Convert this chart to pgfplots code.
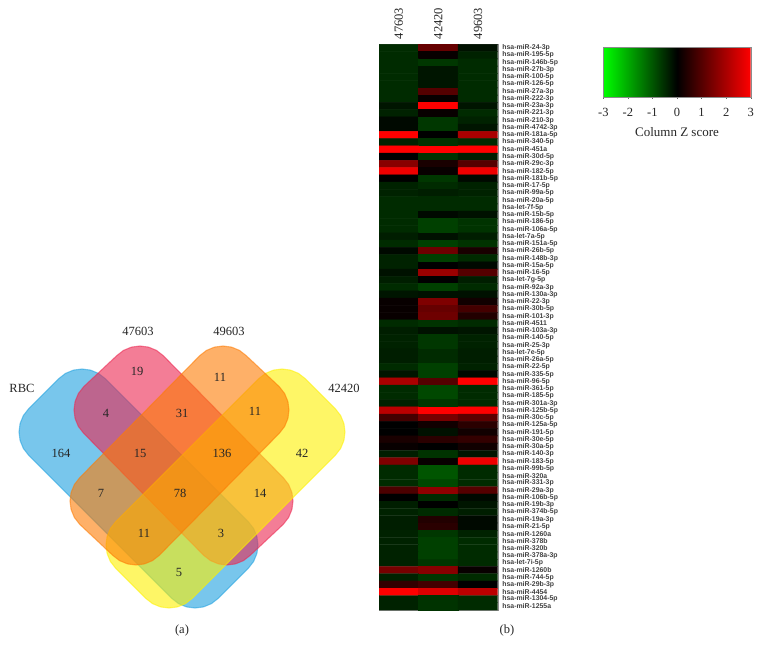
\documentclass[border=0pt]{standalone}
\usepackage{fontspec}
\setmainfont{Liberation Serif}
\newfontfamily\lsans{Liberation Sans}
\usepackage{pgfplots}
\pgfplotsset{compat=1.18}
\definecolor{cblue}{RGB}{30,160,223}
\definecolor{cpink}{RGB}{235,38,80}
\definecolor{cyell}{RGB}{253,240,0}
\definecolor{coran}{RGB}{253,123,3}
\pgfplotsset{vennset/.style={fill=#1,draw=#1,fill opacity=0.6,draw opacity=0.55,line width=1.1pt}}
\begin{document}
\begin{tikzpicture}
\useasboundingbox (0pt,0pt) rectangle (763pt,656pt);
% ---------- Venn diagram, axis in image pixels
\begin{axis}[at={(0pt,0pt)},anchor=south west,scale only axis,width=763pt,height=656pt,
  xmin=0,xmax=763,ymin=0,ymax=656,y dir=reverse,hide axis,clip=false]
\addplot[vennset=cblue] coordinates {
 (28.7,455.3)(23.4,448.5)(20.1,440.5)(19,432)(20.1,423.5)(23.4,415.5)(28.7,408.7)
 (58.7,378.7)(65.5,373.4)(73.5,370.1)(82,369)(90.5,370.1)(98.5,373.4)(105.3,378.7)
 (248.3,521.7)(253.6,528.5)(256.9,536.5)(258,545)(256.9,553.5)(253.6,561.5)(248.3,568.3)
 (218.3,598.3)(211.5,603.6)(203.5,606.9)(195,608)(186.5,606.9)(178.5,603.6)(171.7,598.3)
} -- cycle;
\addplot[vennset=cpink] coordinates {
 (83.7,433.3)(78.4,426.5)(75.1,418.5)(74,410)(75.1,401.5)(78.4,393.5)(83.7,386.7)
 (116.7,355.7)(123.5,350.4)(131.5,347.1)(140,346)(148.5,347.1)(156.5,350.4)(163.3,355.7)
 (283.3,477.7)(288.6,484.5)(291.9,492.5)(293,501)(291.9,509.5)(288.6,517.5)(283.3,524.3)
 (250.3,555.3)(243.5,560.6)(235.5,563.9)(227,565)(218.5,563.9)(210.5,560.6)(203.7,555.3)
} -- cycle;
\addplot[vennset=cyell] coordinates {
 (115.7,568.3)(110.4,561.5)(107.1,553.5)(106,545)(107.1,536.5)(110.4,528.5)(115.7,521.7)
 (258.7,378.7)(265.5,373.4)(273.5,370.1)(282,369)(290.5,370.1)(298.5,373.4)(305.3,378.7)
 (335.3,408.7)(340.6,415.5)(343.9,423.5)(345,432)(343.9,440.5)(340.6,448.5)(335.3,455.3)
 (192.3,598.3)(185.5,603.6)(177.5,606.9)(169,608)(160.5,606.9)(152.5,603.6)(145.7,598.3)
} -- cycle;
\addplot[vennset=coran] coordinates {
 (79.7,524.3)(74.4,517.5)(71.1,509.5)(70,501)(71.1,492.5)(74.4,484.5)(79.7,477.7)
 (199.7,355.7)(206.5,350.4)(214.5,347.1)(223,346)(231.5,347.1)(239.5,350.4)(246.3,355.7)
 (279.3,386.7)(284.6,393.5)(287.9,401.5)(289,410)(287.9,418.5)(284.6,426.5)(279.3,433.3)
 (159.3,555.3)(152.5,560.6)(144.5,563.9)(136,565)(127.5,563.9)(119.5,560.6)(112.7,555.3)
} -- cycle;
\addplot[only marks,mark=none,nodes near coords,nodes near coords align={center},
  point meta=explicit symbolic,
  every node near coord/.append style={font=\fontsize{12.5}{12.5}\selectfont,text=black!85,inner sep=0pt,anchor=center}]
 table[meta=t] {
x y t
137 371 19
220 377 11
106 413 4
182 413 31
255 411 11
61 453 164
140 453 15
222 453 136
302 453 42
101 493 7
180 493 78
260 493 14
144 533 11
221 533 3
179 572 5
22 388 RBC
138 331 47603
229 331 49603
344 388 42420
182 630 (a)
507 630 (b)
};
\end{axis}
% ---------- Heat map
\begin{axis}[at={(379pt,46pt)},anchor=south west,scale only axis,width=118.7pt,height=565.7pt,
  xmin=0.5,xmax=3.5,ymin=0.5,ymax=78.5,y dir=reverse,
  axis line style={black!45,line width=0.4pt},major tick length=0pt,
  colormap={gbr}{rgb255=(0,255,0) rgb255=(0,0,0) rgb255=(255,0,0)},
  point meta min=-3,point meta max=3,
  xtick={1,2,3},xticklabels={47603,42420,49603},xticklabel pos=right,
  x tick label style={rotate=90,anchor=west,font=\fontsize{12.5}{12.5}\selectfont,inner sep=0pt,xshift=5pt,text=black!85},
  ytick={1,...,78},yticklabel pos=right,
  y tick label style={anchor=west,font=\lsans\bfseries\fontsize{6.9}{7}\selectfont,inner sep=0pt,xshift=4.5pt,text=black!75},
  yticklabels={hsa-miR-24-3p,hsa-miR-195-5p,hsa-miR-146b-5p,hsa-miR-27b-3p,hsa-miR-100-5p,hsa-miR-126-5p,hsa-miR-27a-3p,hsa-miR-222-3p,hsa-miR-23a-3p,hsa-miR-221-3p,hsa-miR-210-3p,hsa-miR-4742-3p,hsa-miR-181a-5p,hsa-miR-340-5p,hsa-miR-451a,hsa-miR-30d-5p,hsa-miR-29c-3p,hsa-miR-182-5p,hsa-miR-181b-5p,hsa-miR-17-5p,hsa-miR-99a-5p,hsa-miR-20a-5p,hsa-let-7f-5p,hsa-miR-15b-5p,hsa-miR-186-5p,hsa-miR-106a-5p,hsa-let-7a-5p,hsa-miR-151a-5p,hsa-miR-26b-5p,hsa-miR-148b-3p,hsa-miR-15a-5p,hsa-miR-16-5p,hsa-let-7g-5p,hsa-miR-92a-3p,hsa-miR-130a-3p,hsa-miR-22-3p,hsa-miR-30b-5p,hsa-miR-101-3p,hsa-miR-4511,hsa-miR-103a-3p,hsa-miR-140-5p,hsa-miR-25-3p,hsa-let-7e-5p,hsa-miR-26a-5p,hsa-miR-22-5p,hsa-miR-335-5p,hsa-miR-96-5p,hsa-miR-361-5p,hsa-miR-185-5p,hsa-miR-301a-3p,hsa-miR-125b-5p,hsa-miR-30c-5p,hsa-miR-125a-5p,hsa-miR-191-5p,hsa-miR-30e-5p,hsa-miR-30a-5p,hsa-miR-140-3p,hsa-miR-183-5p,hsa-miR-99b-5p,hsa-miR-320a,hsa-miR-331-3p,hsa-miR-29a-3p,hsa-miR-106b-5p,hsa-miR-19b-3p,hsa-miR-374b-5p,hsa-miR-19a-3p,hsa-miR-21-5p,hsa-miR-1260a,hsa-miR-378b,hsa-miR-320b,hsa-miR-378a-3p,hsa-let-7i-5p,hsa-miR-1260b,hsa-miR-744-5p,hsa-miR-29b-3p,hsa-miR-4454,hsa-miR-1304-5p,hsa-miR-1255a},
  colorbar horizontal,
  colorbar style={at={(1.8897,0.9952)},anchor=north west,width=147.4pt,height=49.7pt,
    y dir=normal,
    /pgfplots/colorbar/width=49.7pt,
    xtick={-3,-2,-1,0,1,2,3},xticklabels={-3,-2,-1,0,1,2,3},
    xticklabel pos=left,xtick pos=left,tick align=outside,
    major tick length=2pt,tick style={black!60},
    axis line style={black!45,line width=0.4pt},
    x tick label style={font=\fontsize{12.5}{12.5}\selectfont,text=black!85,rotate=0,anchor=north,yshift=-6pt},
    xlabel={Column Z score},
    xlabel style={font=\fontsize{13}{13}\selectfont,text=black!85,yshift=-4pt},
    yticklabels={},ytick=\empty},
]
\addplot[matrix plot*,mesh/cols=3,point meta=explicit] coordinates {
(1,1)[-0.5](2,1)[1.2](3,1)[-0.2]
(1,2)[-0.5](2,2)[0.1](3,2)[-0.4]
(1,3)[-0.5](2,3)[-0.65](3,3)[-0.5]
(1,4)[-0.5](2,4)[-0.25](3,4)[-0.5]
(1,5)[-0.5](2,5)[-0.25](3,5)[-0.5]
(1,6)[-0.5](2,6)[-0.25](3,6)[-0.5]
(1,7)[-0.5](2,7)[1.0](3,7)[-0.5]
(1,8)[-0.5](2,8)[0.1](3,8)[-0.5]
(1,9)[-0.25](2,9)[3](3,9)[-0.25]
(1,10)[-0.4](2,10)[0.1](3,10)[-0.5]
(1,11)[-0.1](2,11)[-0.65](3,11)[-0.4]
(1,12)[-0.1](2,12)[-0.65](3,12)[-0.25]
(1,13)[3](2,13)[0](3,13)[2]
(1,14)[-0.4](2,14)[-0.6](3,14)[-0.5]
(1,15)[3](2,15)[3](3,15)[3]
(1,16)[0](2,16)[-0.6](3,16)[-0.35]
(1,17)[1.6](2,17)[0.3](3,17)[1.0]
(1,18)[2.8](2,18)[0.1](3,18)[2.8]
(1,19)[0](2,19)[-0.65](3,19)[-0.1]
(1,20)[-0.4](2,20)[-0.5](3,20)[-0.4]
(1,21)[-0.4](2,21)[-0.35](3,21)[-0.4]
(1,22)[-0.5](2,22)[-0.5](3,22)[-0.5]
(1,23)[-0.5](2,23)[-0.5](3,23)[-0.5]
(1,24)[-0.5](2,24)[-0.1](3,24)[-0.2]
(1,25)[-0.5](2,25)[-0.75](3,25)[-0.6]
(1,26)[-0.5](2,26)[-0.75](3,26)[-0.6]
(1,27)[-0.35](2,27)[-0.2](3,27)[-0.35]
(1,28)[-0.5](2,28)[-0.75](3,28)[-0.6]
(1,29)[-0.1](2,29)[1.3](3,29)[0.3]
(1,30)[-0.4](2,30)[-0.75](3,30)[-0.5]
(1,31)[-0.4](2,31)[0](3,31)[-0.1]
(1,32)[-0.2](2,32)[1.8](3,32)[1.0]
(1,33)[-0.35](2,33)[0](3,33)[-0.35]
(1,34)[-0.5](2,34)[-0.75](3,34)[-0.5]
(1,35)[-0.25](2,35)[-0.2](3,35)[-0.2]
(1,36)[0.1](2,36)[1.5](3,36)[0.2]
(1,37)[0.1](2,37)[1.2](3,37)[0.8]
(1,38)[0.1](2,38)[1.3](3,38)[0.4]
(1,39)[-0.5](2,39)[-0.6](3,39)[-0.5]
(1,40)[-0.35](2,40)[-0.2](3,40)[-0.25]
(1,41)[-0.4](2,41)[-0.65](3,41)[-0.4]
(1,42)[-0.4](2,42)[-0.65](3,42)[-0.4]
(1,43)[-0.35](2,43)[-0.5](3,43)[-0.35]
(1,44)[-0.35](2,44)[-0.5](3,44)[-0.35]
(1,45)[-0.5](2,45)[-0.75](3,45)[-0.4]
(1,46)[-0.25](2,46)[-0.75](3,46)[-0.1]
(1,47)[2](2,47)[1](3,47)[3]
(1,48)[-0.5](2,48)[-0.85](3,48)[-0.5]
(1,49)[-0.5](2,49)[-0.85](3,49)[-0.5]
(1,50)[-0.4](2,50)[-0.65](3,50)[-0.5]
(1,51)[2.2](2,51)[3](3,51)[3]
(1,52)[0.8](2,52)[1.4](3,52)[1.1]
(1,53)[0](2,53)[0.2](3,53)[0.5]
(1,54)[0](2,54)[-0.2](3,54)[0.2]
(1,55)[0.3](2,55)[0.5](3,55)[0.6]
(1,56)[0.1](2,56)[0](3,56)[0.2]
(1,57)[-0.35](2,57)[-0.6](3,57)[-0.25]
(1,58)[1.5](2,58)[0.1](3,58)[2.8]
(1,59)[-0.5](2,59)[-1.0](3,59)[-0.5]
(1,60)[-0.5](2,60)[-1.0](3,60)[-0.5]
(1,61)[-0.5](2,61)[-0.85](3,61)[-0.5]
(1,62)[0.9](2,62)[1.7](3,62)[1.0]
(1,63)[0](2,63)[-0.5](3,63)[-0.1]
(1,64)[-0.35](2,64)[0](3,64)[-0.25]
(1,65)[-0.4](2,65)[-0.5](3,65)[-0.35]
(1,66)[-0.35](2,66)[0.4](3,66)[-0.1]
(1,67)[-0.35](2,67)[0.5](3,67)[-0.1]
(1,68)[-0.4](2,68)[-0.65](3,68)[-0.4]
(1,69)[-0.4](2,69)[-0.75](3,69)[-0.5]
(1,70)[-0.4](2,70)[-0.75](3,70)[-0.5]
(1,71)[-0.4](2,71)[-0.75](3,71)[-0.5]
(1,72)[-0.4](2,72)[-0.65](3,72)[-0.5]
(1,73)[1.4](2,73)[1.6](3,73)[0.1]
(1,74)[-0.4](2,74)[-0.65](3,74)[-0.5]
(1,75)[0.6](2,75)[0.8](3,75)[0]
(1,76)[3](2,76)[2.6](3,76)[2.2]
(1,77)[-0.4](2,77)[-0.6](3,77)[-0.5]
(1,78)[-0.4](2,78)[-0.6](3,78)[-0.5]
};
\end{axis}
\end{tikzpicture}
\end{document}
